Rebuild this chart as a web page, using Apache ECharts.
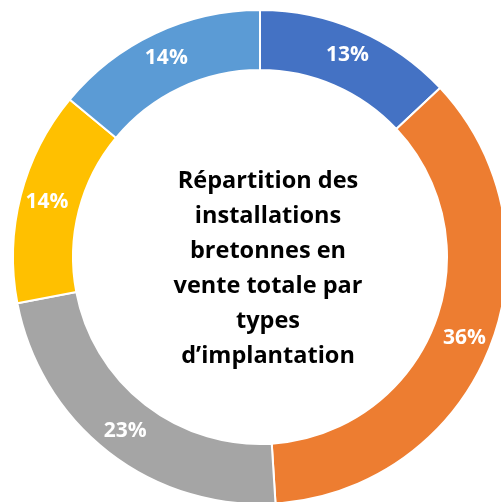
<!DOCTYPE html>
<html><head><meta charset="utf-8">
<script src="https://cdn.jsdelivr.net/npm/echarts@6/dist/echarts.min.js"></script>
<style>html,body{margin:0;padding:0;background:#fff}#c{width:501px;height:502px}</style>
</head><body><div id="c"></div>
<script>
const categories = ['Type A', 'Type B', 'Type C', 'Type D', 'Type E'];
const values = [13, 36, 23, 14, 14];
const colors = ['#4472C4', '#ED7D31', '#A5A5A5', '#FFC000', '#5B9BD5'];
const centerTitle = 'Répartition des\ninstallations\nbretonnes en\nvente totale par\ntypes\nd’implantation';

const chart = echarts.init(document.getElementById('c'), null, {renderer: 'canvas'});
chart.setOption({
  animation: false,
  backgroundColor: '#fff',
  graphic: [{
    type: 'text', x: 268, y: 269,
    style: {
      text: centerTitle, fill: '#000', textAlign: 'center', textVerticalAlign: 'middle',
      font: 'bold 23.5px "Open Sans"', lineHeight: 35
    }
  }],
  series: [{
    type: 'pie',
    center: [260, 257],
    radius: [187, 247],
    startAngle: 90,
    clockwise: true,
    data: categories.map((c, i) => ({name: c, value: values[i], itemStyle: {color: colors[i]}})),
    itemStyle: {borderColor: '#fff', borderWidth: 2},
    label: {
      position: 'inside', formatter: '{d}%', color: '#fff',
      fontFamily: 'Open Sans', fontWeight: 'bold', fontSize: 21
    },
    labelLine: {show: false},
    emphasis: {disabled: true}
  }]
});
</script></body></html>
